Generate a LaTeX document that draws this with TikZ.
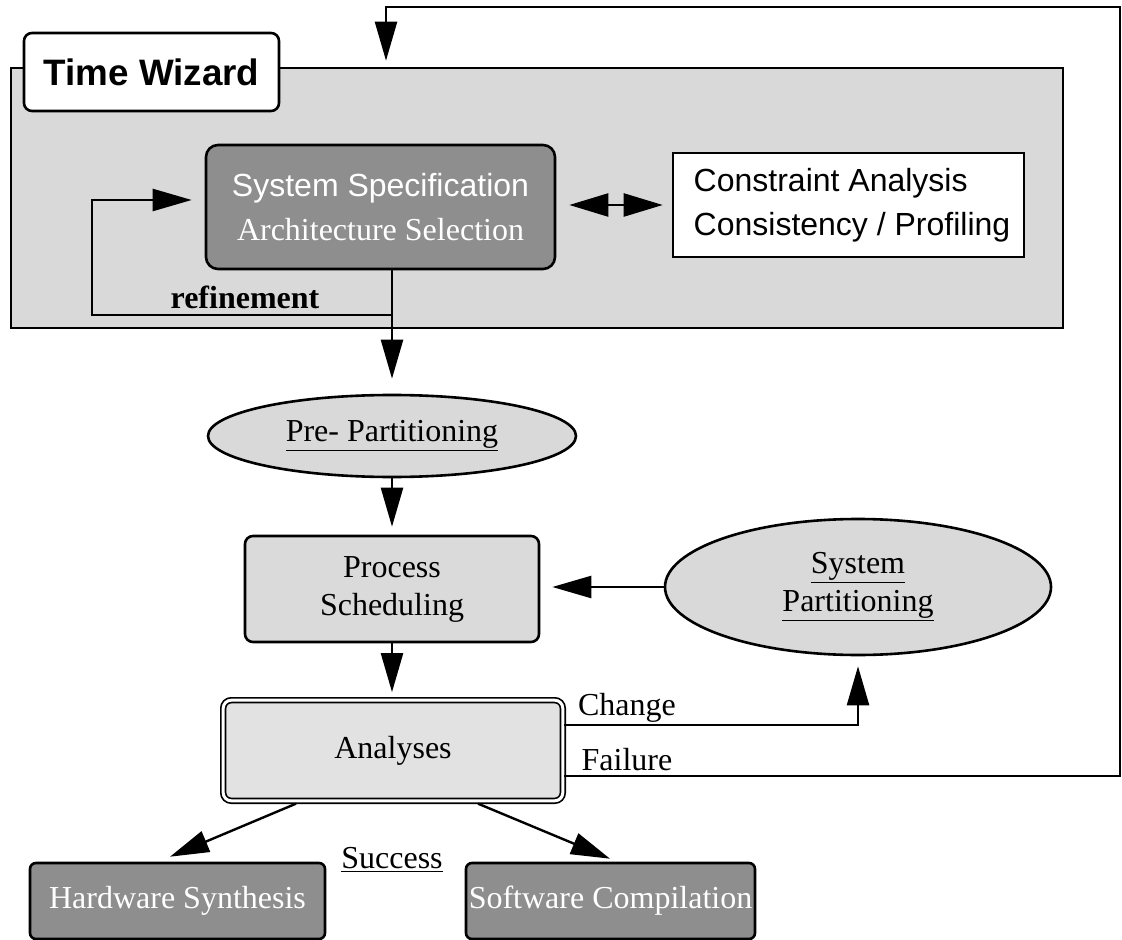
\documentclass[tikz,border=0pt]{standalone}
\usepackage{fontspec}
\setmainfont{Liberation Serif}
\setsansfont{Liberation Sans}
\usetikzlibrary{arrows.meta,shapes.geometric,calc}
\definecolor{panelgray}{HTML}{D9D9D9}
\definecolor{boxgray}{HTML}{DADADA}
\definecolor{anagray}{HTML}{E2E2E2}
\definecolor{darkfill}{HTML}{8E8E8E}
\tikzset{
  txt/.style={font=\fontsize{16}{22}\selectfont},
  tight/.style={font=\fontsize{16}{19}\selectfont},
  panelbox/.style={draw, line width=1.3pt, fill=panelgray, inner sep=0pt},
  tabbox/.style={draw, line width=1.3pt, fill=white, rounded corners=4pt, inner sep=0pt,
    font=\sffamily\bfseries\fontsize{18.4}{22}\selectfont},
  darkbox/.style={draw, line width=1.3pt, fill=darkfill, text=white, rounded corners=6pt,
    inner sep=0pt, align=center, txt},
  whitebox/.style={draw, line width=1.3pt, fill=white, inner sep=0pt,
    align=left, font=\sffamily\fontsize{16}{22}\selectfont},
  lightbox/.style={draw, line width=1.3pt, fill=boxgray, rounded corners=4pt, inner sep=0pt,
    align=center, tight},
  anabox/.style={draw, line width=0.85pt, double=white, double distance=1.5pt, fill=anagray,
    rounded corners=4pt, inner sep=0pt, align=center, txt},
  oval/.style={ellipse, draw, line width=1.3pt, fill=panelgray, inner sep=0pt, align=center, tight},
  arr/.style={line width=1.2pt, -{Triangle[length=19.5pt,width=11pt]}},
  dblarr/.style={line width=1.2pt, {Triangle[length=19.5pt,width=11.5pt]}-{Triangle[length=19.5pt,width=11.5pt]}},
  lbl/.style={inner sep=0pt, txt}
}
\begin{document}
\begin{tikzpicture}[x=0.5pt,y=-0.5pt]
\useasboundingbox (0,0) rectangle (1122,940);

% Time Wizard panel and its title tab
\node[panelbox, minimum width=526pt, minimum height=130pt] (panel) at (537,198) {};
\node[tabbox, minimum width=127.5pt, minimum height=39pt] (tab) at (151.5,72) {Time Wizard};

% panel contents
\node[darkbox, minimum width=174.5pt, minimum height=62pt] (spec) at (380.5,207)
  {\sffamily System Specification\\Architecture Selection};
\node[whitebox, minimum width=175.5pt, minimum height=52pt] (cons) at (848.5,205)
  {\hspace*{3.5pt}Constraint Analysis\\\hspace*{3.5pt}Consistency / Profiling};

% design flow
\node[oval, minimum width=184pt, minimum height=41pt] (pre) at (392,436) {\underline{Pre- Partitioning}};
\node[lightbox, minimum width=147pt, minimum height=53pt] (proc) at (392,589) {Process\\Scheduling};
\node[oval, minimum width=193pt, minimum height=68pt] (sysp) at (858,587)
  {\underline{System}\\\underline{Partitioning}};
\node[anabox, minimum width=169.8pt, minimum height=50.3pt] (ana) at (393,750.5) {Analyses};
\node[darkbox, rounded corners=3pt, minimum width=147.5pt, minimum height=38pt] (hw) at (177.5,901)
  {Hardware Synthesis};
\node[darkbox, rounded corners=3pt, minimum width=144.5pt, minimum height=38pt] (sw) at (610.5,901)
  {Software Compilation};

% labels
\node[lbl, font=\bfseries\fontsize{16}{22}\selectfont] (reflbl) at (245,297) {refinement};
\node[lbl] (succ) at (392,860) {\underline{Success}};
\node[lbl] (chg) at (627,708) {Change};
\node[lbl] (fail) at (627,760) {Failure};

% helper coordinates for routed connectors
\coordinate (refY) at (0,315);
\coordinate (refL) at (92,200);
\coordinate (chgY) at (0,725);
\coordinate (failY) at (0,776);
\coordinate (fbTop) at (386,7);
\coordinate (fbRight) at (1120,7);

% connectors
\draw[dblarr, shorten <=6.5pt, shorten >=4.5pt] (spec.east |- cons.west) -- (cons.west);
\draw[arr, shorten >=7.5pt] (spec.south -| pre.north) -- (pre.north);
\draw[arr, shorten >=6.5pt] (pre.north |- refY) -| (refL) -- (refL -| spec.west);
\draw[arr, shorten >=4pt] (pre.south) -- (proc.north);
\draw[arr, shorten >=3.6pt] (proc.south) -- (proc.south |- ana.north);
\draw[arr, shorten >=6pt] (sysp.west) -- (proc.east |- sysp.west);
\draw[arr, shorten >=5pt] (ana.east |- chgY) -| (sysp.south);
\draw[arr, shorten >=3pt] (ana.east |- failY) -| (fbRight) -| (panel.north -| fbTop);
\draw[arr] ($(ana.south)+(-97,2)$) -- ($(hw.north)+(-7.5,-5)$);
\draw[arr] ($(ana.south)+(85,2)$) -- ($(sw.north)+(-0.5,-3)$);
\end{tikzpicture}
\end{document}
